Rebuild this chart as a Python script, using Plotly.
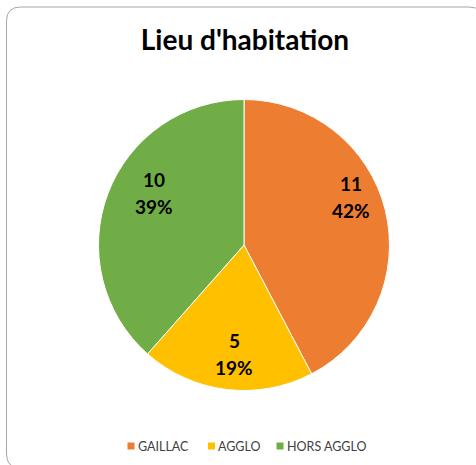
import plotly.graph_objects as go

# data
categories = ["GAILLAC", "AGGLO", "HORS AGGLO"]
counts = [11, 5, 10]
pct_labels = ["42%", "19%", "39%"]
colors = ["#ED7D31", "#FFC000", "#70AD47"]

W, H = 476, 465
FONT = "Lato, Carlito, Calibri, 'Open Sans', sans-serif"


def px_x(x):
    return x / W


def px_y(y):
    return 1 - y / H


# pie placement in pixels (centre, radius)
cx, cy, r = 244, 245, 145.5

fig = go.Figure(
    go.Pie(
        labels=categories,
        values=counts,
        textinfo="none",
        marker=dict(colors=colors, line=dict(color="white", width=1)),
        sort=False,
        direction="clockwise",
        rotation=0,
        hoverinfo="label+value+percent",
        showlegend=False,
        domain=dict(x=[px_x(cx - r), px_x(cx + r)], y=[px_y(cy + r), px_y(cy - r)]),
    )
)

annotations = []
shapes = []

# data labels, Excel "best fit" spots (x, y of value line, y of percent line)
label_spots = [(351, 183, 210), (234, 340, 367), (154, 179.5, 206)]
for (lx, ly1, ly2), val, pct in zip(label_spots, counts, pct_labels):
    for txt, ly in ((str(val), ly1), (pct, ly2)):
        annotations.append(
            dict(
                text=f"<b>{txt}</b>",
                x=px_x(lx),
                y=px_y(ly),
                xref="paper",
                yref="paper",
                showarrow=False,
                xanchor="center",
                yanchor="middle",
                font=dict(family=FONT, size=19, color="black"),
            )
        )

# legend: small squares + text, like Excel
legend_x = [131, 211.5, 280]
legend_y = 446
sq = 3.5
for name, col, lx in zip(categories, colors, legend_x):
    shapes.append(
        dict(
            type="rect",
            xref="paper",
            yref="paper",
            x0=px_x(lx - sq),
            x1=px_x(lx + sq),
            y0=px_y(legend_y + sq),
            y1=px_y(legend_y - sq),
            fillcolor=col,
            line=dict(width=0),
        )
    )
    annotations.append(
        dict(
            text=name,
            x=px_x(lx + sq + 3),
            y=px_y(legend_y),
            xref="paper",
            yref="paper",
            showarrow=False,
            xanchor="left",
            yanchor="middle",
            xshift=-2,
            font=dict(family=FONT, size=12.5, color="#404040"),
        )
    )

# rounded chart border (Excel style), runs off the right and bottom edges
x0, y0, x1, y1, rad = 6.5, 7, 483, 468, 14
path = (
    f"M {px_x(x0 + rad)},{px_y(y0)} L {px_x(x1 - rad)},{px_y(y0)} "
    f"Q {px_x(x1)},{px_y(y0)} {px_x(x1)},{px_y(y0 + rad)} "
    f"L {px_x(x1)},{px_y(y1 - rad)} Q {px_x(x1)},{px_y(y1)} {px_x(x1 - rad)},{px_y(y1)} "
    f"L {px_x(x0 + rad)},{px_y(y1)} Q {px_x(x0)},{px_y(y1)} {px_x(x0)},{px_y(y1 - rad)} "
    f"L {px_x(x0)},{px_y(y0 + rad)} Q {px_x(x0)},{px_y(y0)} {px_x(x0 + rad)},{px_y(y0)} Z"
)
shapes.append(
    dict(
        type="path",
        xref="paper",
        yref="paper",
        path=path,
        line=dict(color="#a6a6a6", width=1),
        layer="above",
    )
)

fig.update_layout(
    width=W,
    height=H,
    margin=dict(l=0, r=0, t=0, b=0),
    paper_bgcolor="white",
    plot_bgcolor="white",
    title=dict(
        text="<b>Lieu d'habitation</b>",
        x=px_x(245),
        xanchor="center",
        y=px_y(40),
        yanchor="middle",
        font=dict(family=FONT, size=28, color="black"),
    ),
    annotations=annotations,
    shapes=shapes,
)

fig.write_html(
    "out.html",
    config={"displayModeBar": False},
    post_script="document.body.style.margin='0';",
)
